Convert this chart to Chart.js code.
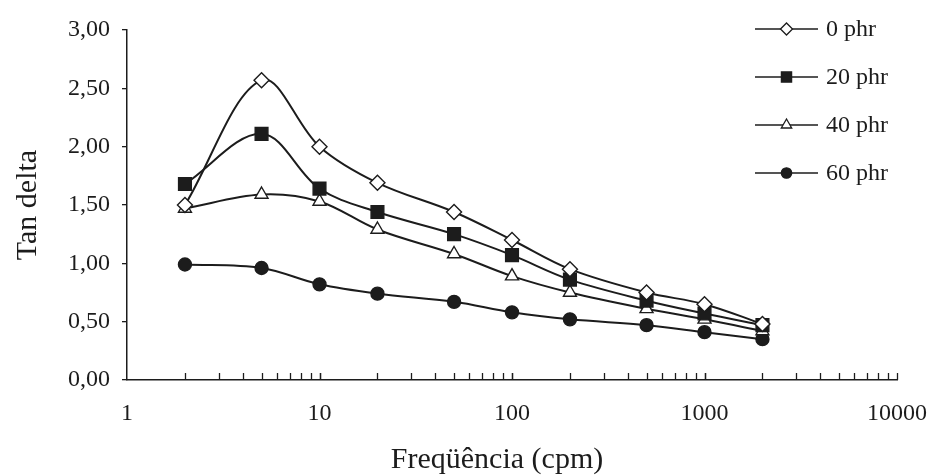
<!DOCTYPE html>
<html>
<head>
<meta charset="utf-8">
<script src="https://cdn.jsdelivr.net/npm/chart.js@4/dist/chart.umd.min.js"></script>
<style>
html,body{margin:0;padding:0;background:#fff;}
#wrap{width:932px;height:476px;position:relative;}
</style>
</head>
<body>
<div id="wrap"><canvas id="c" width="932" height="476"></canvas></div>
<script>
// ---- data ----
const frequencies = [2, 5, 10, 20, 50, 100, 200, 500, 1000, 2000];
const seriesNames = ['0 phr', '20 phr', '40 phr', '60 phr'];
const tan0  = [1.50, 2.57, 2.00, 1.69, 1.44, 1.20, 0.95, 0.75, 0.65, 0.48];
const tan20 = [1.68, 2.11, 1.64, 1.44, 1.25, 1.07, 0.86, 0.68, 0.57, 0.47];
const tan40 = [1.47, 1.59, 1.53, 1.29, 1.08, 0.89, 0.75, 0.61, 0.52, 0.42];
const tan60 = [0.99, 0.96, 0.82, 0.74, 0.67, 0.58, 0.52, 0.47, 0.41, 0.35];
const xTickLabels = [1, 10, 100, 1000, 10000];
const yTickValues = [0, 0.5, 1, 1.5, 2, 2.5, 3];
const xTitle = 'Freqüência (cpm)';
const yTitle = 'Tan delta';

const INK = '#1c1c1c';
const FONT = '"Liberation Serif", "Times New Roman", serif';

function pts(vals){ return frequencies.map((f,i)=>({x:f, y:vals[i]})); }

const styles = [
  {pointStyle:'rectRot', radius:7.5, bg:'#ffffff'},
  {pointStyle:'rect', radius:9, bg:INK},
  {pointStyle:'triangle', radius:7.5, bg:'#ffffff'},
  {pointStyle:'circle', radius:6.5, bg:INK}
];
const allVals = [tan0, tan20, tan40, tan60];

const datasets = allVals.map((v,i)=>({
  label: seriesNames[i],
  data: pts(v),
  borderColor: INK,
  borderWidth: 2,
  tension: 0.35,
  pointStyle: styles[i].pointStyle,
  pointRadius: styles[i].radius,
  pointBackgroundColor: styles[i].bg,
  pointBorderColor: INK,
  pointBorderWidth: 1.4,
  fill: false
}));

const innerTicksAndLegend = {
  id: 'innerTicksAndLegend',
  afterDraw(chart){
    const ctx = chart.ctx;
    const xs = chart.scales.x;
    const ca = chart.chartArea;
    ctx.save();
    ctx.strokeStyle = INK;
    ctx.lineWidth = 1.3;
    // inward ticks on log x axis
    for (let d = 1; d < 10000; d *= 10) {
      for (let m = 1; m <= 10; m++) {
        const v = d * m;
        if (v <= 1) continue;
        const px = Math.round(xs.getPixelForValue(v)) + 0.5;
        ctx.beginPath();
        ctx.moveTo(px, ca.bottom);
        ctx.lineTo(px, ca.bottom - 7);
        ctx.stroke();
      }
    }
    // x axis title
    ctx.font = '30px ' + FONT;
    ctx.fillStyle = INK;
    ctx.textAlign = 'center';
    ctx.textBaseline = 'middle';
    ctx.fillText(xTitle, 497, 460);
    // legend
    const lx0 = 755, lx1 = 818, tx = 826;
    const ys = [29, 77, 125, 173];
    ctx.font = '24px ' + FONT;
    ctx.textBaseline = 'middle';
    ctx.textAlign = 'left';
    chart.data.datasets.forEach((ds, i) => {
      const y = ys[i];
      ctx.lineWidth = 1.6;
      ctx.strokeStyle = INK;
      ctx.beginPath();
      ctx.moveTo(lx0, y);
      ctx.lineTo(lx1, y);
      ctx.stroke();
      ctx.fillStyle = ds.pointBackgroundColor;
      ctx.strokeStyle = INK;
      ctx.lineWidth = 1.3;
      Chart.helpers.drawPoint(ctx, {pointStyle: ds.pointStyle, rotation: 0, borderWidth: 1.3,
                                    radius: ds.pointRadius * 0.8}, (lx0+lx1)/2, y);
      ctx.fillStyle = INK;
      ctx.fillText(ds.label, tx, y + 1);
    });
    ctx.restore();
  }
};

new Chart(document.getElementById('c'), {
  type: 'line',
  data: { datasets },
  options: {
    responsive: false,
    animation: false,
    devicePixelRatio: 1,
    layout: { padding: { left: 0, top: 30, right: 0, bottom: 0 } },
    plugins: { legend: { display: false }, tooltip: { enabled: false } },
    scales: {
      x: {
        type: 'logarithmic',
        min: 1, max: 10000,
        afterBuildTicks(scale){ scale.ticks = xTickLabels.map(v=>({value:v})); },
        afterFit(scale){ scale.height = 96; scale.paddingRight = 35; scale.paddingLeft = 0; },
        grid: { display: false, drawTicks: false },
        border: { display: true, color: INK, width: 1.5 },
        ticks: {
          autoSkip: false, maxRotation: 0, padding: 19,
          color: INK, font: { family: FONT, size: 24 },
          callback: (v) => String(v)
        },
        title: { display: false }
      },
      y: {
        min: 0, max: 3,
        afterBuildTicks(scale){ scale.ticks = yTickValues.map(v=>({value:v})); },
        afterFit(scale){ scale.width = 127; },
        grid: { drawOnChartArea: false, drawTicks: true, tickLength: 5, color: INK, lineWidth: 1.3 },
        border: { display: true, color: INK, width: 1.5 },
        ticks: {
          padding: 12, color: INK, font: { family: FONT, size: 24 },
          callback: (v) => Number(v).toFixed(2).replace('.', ',')
        },
        title: { display: true, text: yTitle, color: INK,
                 font: { family: FONT, size: 30 }, padding: { top: 10, bottom: 0 } }
      }
    }
  },
  plugins: [innerTicksAndLegend]
});
</script>
</body>
</html>
